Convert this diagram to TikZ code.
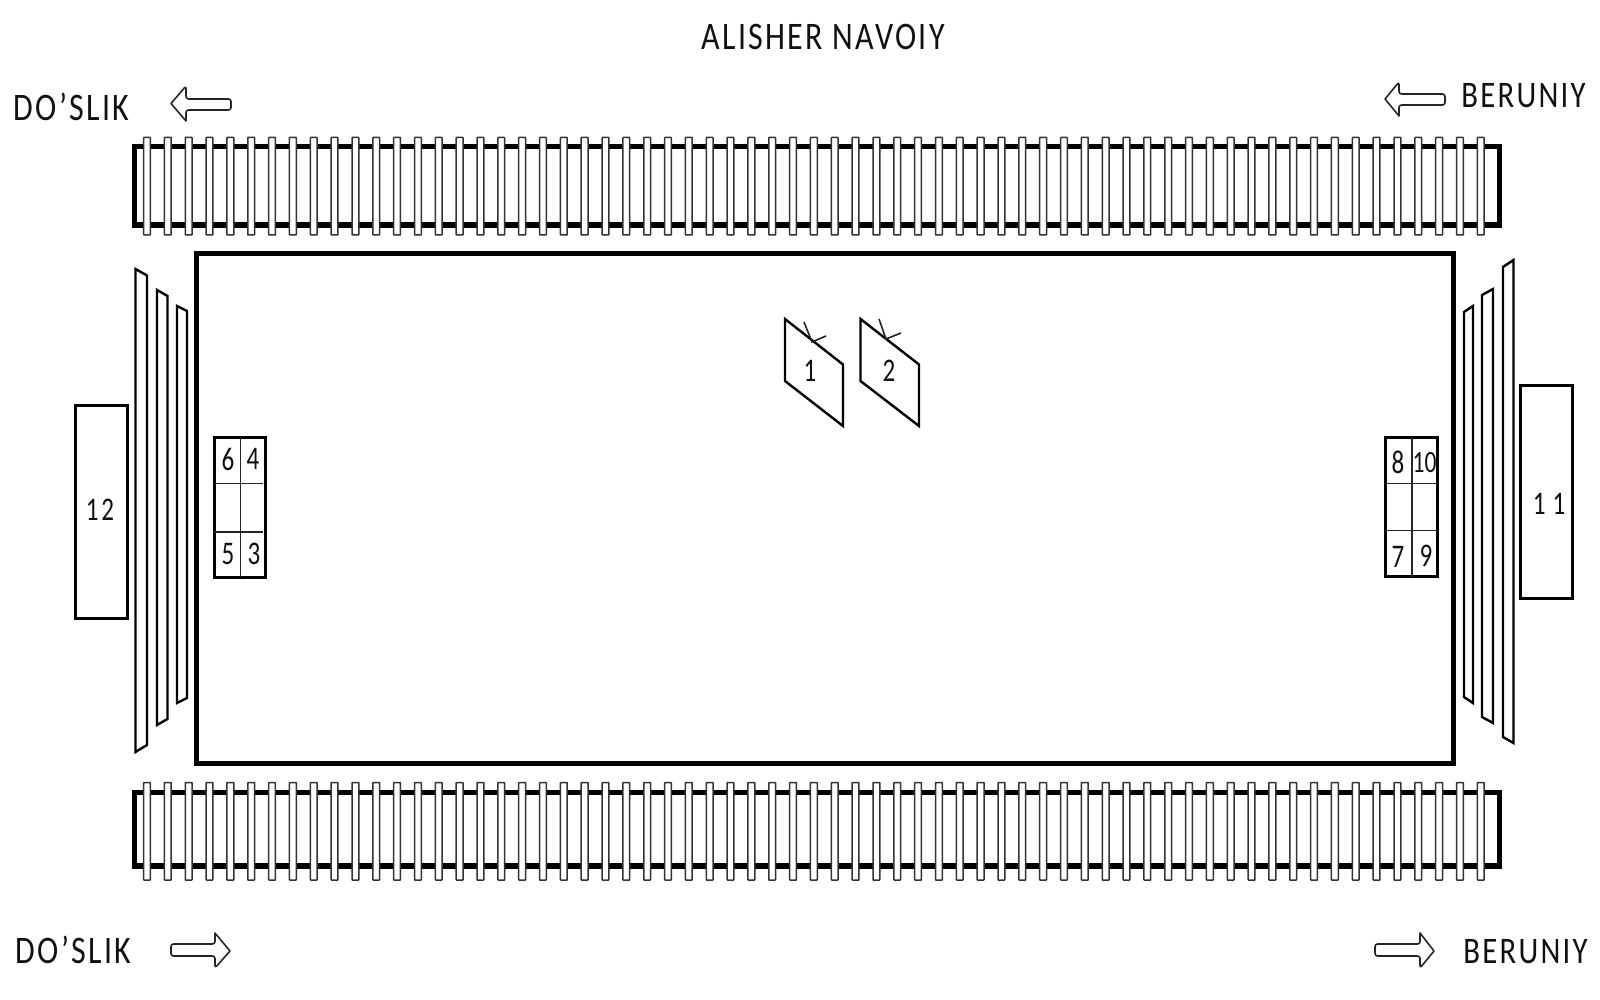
\documentclass[tikz,border=0pt]{standalone}
\usepackage{fontspec}
\setmainfont{Carlito}
\newfontfamily\lab[LetterSpace=6,FakeStretch=0.82]{Carlito}
\newfontfamily\num[FakeStretch=0.76]{Carlito}
\definecolor{ink}{HTML}{111111}
\tikzset{
  x=1pt,y=-1pt,
  heavy/.style={draw=black,line width=5.4pt,line join=miter,fill=white},
  main/.style={draw=black,line width=5pt,fill=white},
  tie/.style={draw=black!80,line width=1.5pt,fill=white,rounded corners=0.5pt},
  bar/.style={draw=black,line width=2.4pt,fill=white,line join=miter},
  boxx/.style={draw=black,line width=3pt,fill=white},
  thin/.style={draw=black!85,line width=1.6pt},
  arr/.style={draw=black!85,line width=1.6pt,fill=white,line join=round},
  txt/.style={inner sep=0pt,anchor=base,text=ink,font=\fontsize{39}{39}\lab},
  txtb/.style={inner sep=0pt,anchor=base,text=ink,font=\fontsize{37.5}{37.5}\lab},
  numb/.style={inner sep=0pt,anchor=base,text=ink,font=\fontsize{33}{33}\num},
}
\begin{document}
\begin{tikzpicture}
\useasboundingbox (0,0) rectangle (1600,1000);
% title and street labels
\node[txt] (title) at (823,50) {ALISHER NAVOIY};
\node[txt] (dtop) at (71.5,121) {DO’SLIK};
\node[txtb] (btop) at (1523.5,108) {BERUNIY};
\node[txt] (dbot) at (73.5,963) {DO’SLIK};
\node[txtb] (bbot) at (1525.5,963) {BERUNIY};
% arrows
\draw[arr,rounded corners=2.5pt] (231,99) -- (186,99) -- (186,86) [sharp corners] -- (171,103.5) -- (186,121) [rounded corners=2.5pt] -- (186,110) -- (231,110) -- cycle;
\draw[arr,rounded corners=2.5pt] (1445,94) -- (1399,94) -- (1399,82) [sharp corners] -- (1385,99) -- (1399,116) [rounded corners=2.5pt] -- (1399,105) -- (1445,105) -- cycle;
\draw[arr,rounded corners=2.5pt] (171,956) -- (215,956) -- (215,968) [sharp corners] -- (230,951) -- (215,933) [rounded corners=2.5pt] -- (215,944) -- (171,944) -- cycle;
\draw[arr,rounded corners=2.5pt] (1375,956) -- (1420,956) -- (1420,968) [sharp corners] -- (1434,951) -- (1420,933) [rounded corners=2.5pt] -- (1420,944) -- (1375,944) -- cycle;
% tracks
\draw[heavy] (134.5,146.5) rectangle (1499.3,225);
\draw[heavy] (134.5,792.5) rectangle (1499.3,866);
\foreach \i in {0,...,64}{
  \pgfmathsetmacro\tx{147+20.84*\i}
  \draw[tie] (\tx-3.4,137.5) rectangle (\tx+3.4,235);
  \draw[tie] (\tx-3.4,782.5) rectangle (\tx+3.4,880);
}
% main field
\draw[main] (196,254) rectangle (1453,763);
% side bars
\draw[bar] (135.5,269) -- (147,275.5) -- (147,745) -- (135.5,752) -- cycle;
\draw[bar] (157,290) -- (167.5,296) -- (167.5,719) -- (157,725) -- cycle;
\draw[bar] (177,306) -- (187,311) -- (187,698) -- (177,703) -- cycle;
\draw[bar] (1464,312) -- (1473,306) -- (1473,703) -- (1464,697) -- cycle;
\draw[bar] (1482,295) -- (1493,289) -- (1493,723) -- (1482,717) -- cycle;
\draw[bar] (1503,267) -- (1513.5,260) -- (1513.5,743) -- (1503,737) -- cycle;
% big boxes
\draw[boxx] (75.5,405.5) rectangle (127.5,618.5);
\node[numb] (n12) at (100,520) {1\kern3pt 2};
\draw[boxx] (1520.5,385.5) rectangle (1572.5,598.5);
\node[numb] (n11) at (1549,514) {1\kern7pt 1};
% left grid
\draw[boxx] (214,437.5) rectangle (265.7,577);
\draw[thin] (240.5,437.5) -- (240.5,577);
\draw[thin] (214,483.5) -- (263,483.5);
\draw[thin] (214,532) -- (263,532);
\node[numb] (n6) at (228,470) {6};
\node[numb] (n4) at (253,469) {4};
\node[numb] (n5) at (228,564) {5};
\node[numb] (n3) at (254,564) {3};
% right grid
\draw[boxx] (1385.5,437.5) rectangle (1437.5,576.5);
\draw[thin] (1412,437.5) -- (1412,576.5);
\draw[thin] (1385.5,483.5) -- (1437,483.5);
\draw[thin] (1385.5,530.5) -- (1437,530.5);
\node[numb] (n8) at (1398,473) {8};
\node[font=\fontsize{31}{31}\num,inner sep=0pt,anchor=base,text=ink] (n10) at (1424.5,472) {10};
\node[numb] (n7) at (1398,567) {7};
\node[numb] (n9) at (1426,566) {9};
% parallelograms
\draw[bar] (785,319) -- (843,364.5) -- (843,426) -- (785,381) -- cycle;
\draw[bar] (860.5,319) -- (919,364.5) -- (919,426) -- (860.5,381) -- cycle;
\draw[thin] (804,322) -- (812,342) -- (826,336);
\draw[thin] (879,319) -- (886,339) -- (901,333);
\node[numb] (n1) at (810,381) {1};
\node[numb] (n2) at (889,381) {2};
\end{tikzpicture}
\end{document}
